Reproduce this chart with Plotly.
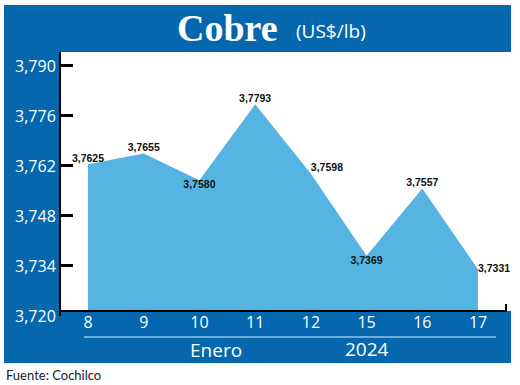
import plotly.graph_objects as go

# ---- data ----
days = ["8", "9", "10", "11", "12", "15", "16", "17"]
prices = [3.7625, 3.7655, 3.7580, 3.7793, 3.7598, 3.7369, 3.7557, 3.7331]
price_labels = [f"{v:.4f}".replace(".", ",") for v in prices]
label_pos = ["top center", "top center", "bottom center", "top center",
             "top right", "bottom center", "top center", "middle right"]
y_ticks = [3.720, 3.734, 3.748, 3.762, 3.776, 3.790]
y_ticktext = [f"{v:.3f}".replace(".", ",") for v in y_ticks]
month_label = "Enero"
year_label = "2024"
title_main = "Cobre"
title_unit = "(US$/lb)"
source = "Fuente: Cochilco"

# ---- styles ----
DARK = "#0567AD"
LIGHT = "#55B4E2"
Y_RANGE = [3.720, 3.7939]
BASE = 3.7214  # x-axis baseline level

W, H = 520, 385
ML, MR, MT, MB = 61, 9, 52, 69
PW, PH = W - ML - MR, H - MT - MB


def px(x):
    return (x - ML) / PW


def py(y):
    return (H - MB - y) / PH


fig = go.Figure()
fig.add_trace(go.Scatter(x=days, y=[BASE] * len(days), mode="lines",
                         line=dict(width=0), hoverinfo="skip", showlegend=False))
fig.add_trace(go.Scatter(
    x=days, y=prices, mode="lines+text", fill="tonexty", fillcolor=LIGHT,
    line=dict(width=0, color=LIGHT), text=price_labels, textposition=label_pos,
    texttemplate="<b>%{text}</b>", cliponaxis=False,
    textfont=dict(family="Liberation Sans Narrow, Liberation Sans, sans-serif",
                  size=10.5, color="#111"),
    showlegend=False))

shapes = [
    dict(type="rect", xref="paper", yref="paper", x0=px(4), x1=px(511), y0=py(52), y1=py(5),
         fillcolor=DARK, line=dict(width=0), layer="below"),
    dict(type="rect", xref="paper", yref="paper", x0=px(4), x1=px(61), y0=py(363), y1=py(52),
         fillcolor=DARK, line=dict(width=0), layer="below"),
    dict(type="rect", xref="paper", yref="paper", x0=px(4), x1=px(511), y0=py(363), y1=py(311),
         fillcolor=DARK, line=dict(width=0), layer="below"),
    dict(type="line", xref="paper", yref="paper", x0=px(84), x1=px(496), y0=py(337), y1=py(337),
         line=dict(color="#8FC4EA", width=1.5), layer="below"),
    dict(type="line", xref="paper", yref="paper", x0=px(506), x1=px(506), y0=py(311), y1=py(304),
         line=dict(color="black", width=2)),
]

annotations = [
    dict(text=f"<b>{title_main}</b>", xref="paper", yref="paper", x=px(227), y=py(28),
         xanchor="center", yanchor="middle", showarrow=False,
         font=dict(family="Liberation Serif, serif", size=38, color="white")),
    dict(text=title_unit, xref="paper", yref="paper", x=px(294), y=py(31),
         xanchor="left", yanchor="middle", showarrow=False,
         font=dict(family="Open Sans, sans-serif", size=19, color="white")),
    dict(text=month_label, xref="x", yref="paper", x=2.3, y=py(350),
         xanchor="center", yanchor="middle", showarrow=False,
         font=dict(family="Open Sans, sans-serif", size=19, color="white")),
    dict(text=year_label, xref="x", yref="paper", x=5, y=py(349),
         xanchor="center", yanchor="middle", showarrow=False,
         font=dict(family="Open Sans, sans-serif", size=19, color="white")),
    dict(text=source, xref="paper", yref="paper", x=px(4), y=py(375),
         xanchor="left", yanchor="middle", showarrow=False,
         font=dict(family="Lato, Open Sans, sans-serif", size=13, color="#222")),
]

fig.update_layout(
    width=W, height=H, margin=dict(l=ML, r=MR, t=MT, b=MB),
    paper_bgcolor="white", plot_bgcolor="rgba(0,0,0,0)",
    shapes=shapes, annotations=annotations, showlegend=False,
    xaxis=dict(type="category", categoryorder="array", categoryarray=days,
               range=[-0.4846, 7.592], anchor="free", position=py(311),
               showline=False, ticks="",
               showgrid=False, zeroline=False,
               tickfont=dict(family="Open Sans, sans-serif", size=16, color="white")),
    yaxis=dict(range=Y_RANGE, tickvals=y_ticks, ticktext=y_ticktext,
               showline=True, linecolor="black", linewidth=2,
               ticks="inside", ticklen=12, tickwidth=2.5, tickcolor="black",
               showgrid=False, zeroline=False,
               tickfont=dict(family="Open Sans, sans-serif", size=16, color="white")),
)
# x-axis baseline line
fig.add_shape(type="line", xref="paper", yref="y", x0=px(60), x1=px(507), y0=BASE, y1=BASE,
              line=dict(color="black", width=2))

fig.write_html("out.html", config={"displayModeBar": False},
               post_script="document.body.style.margin='0';")
